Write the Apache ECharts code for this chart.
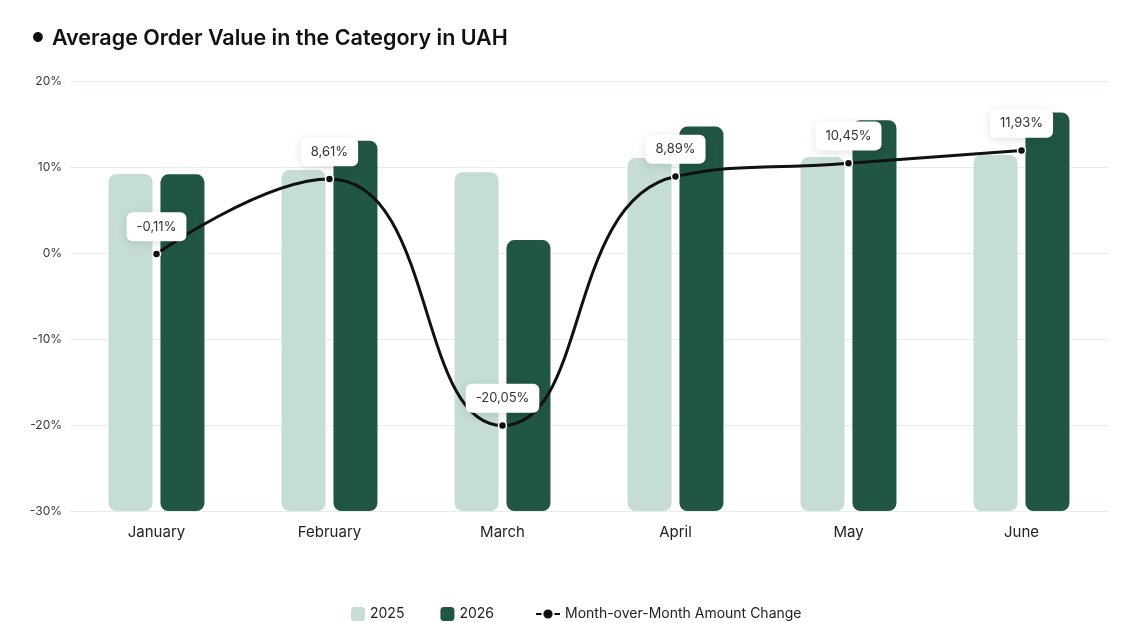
<!DOCTYPE html>
<html>
<head>
<meta charset="utf-8">
<script src="https://cdn.jsdelivr.net/npm/echarts@6/dist/echarts.min.js"></script>
<style>
  html, body { margin: 0; padding: 0; background: #fff; }
  #chart { width: 1148px; height: 623px; }
</style>
</head>
<body>
<div id="chart"></div>
<script>
const months = ['January', 'February', 'March', 'April', 'May', 'June'];
// average order value, UAH
const aov2025 = [784, 793, 788, 821, 823, 828];
const aov2026 = [783, 861, 630, 894, 909, 927];
// change in %, as labelled on the line
const change = [-0.11, 8.61, -20.05, 8.89, 10.45, 11.93];

const font = 'Inter, "Noto Sans", sans-serif';
const lineName = 'Month-over-Month Amount Change';

const chart = echarts.init(document.getElementById('chart'));

const option = {
    backgroundColor: '#fff',
    textStyle: { fontFamily: font },
    title: {
        text: '{dot|●}{t|Average Order Value in the Category in UAH}',
        left: 27,
        top: 23,
        textStyle: {
            rich: {
                dot: { fontFamily: font, fontSize: 13, color: '#111', padding: [0, 8, 2, 0] },
                t: { fontFamily: font, fontSize: 21.5, fontWeight: 600, color: '#111' }
            }
        }
    },
    legend: [
        {
            top: 602,
            left: 346,
            itemGap: 36,
            itemWidth: 14,
            itemHeight: 14,
            textStyle: { fontFamily: font, fontSize: 14, color: '#222' },
            data: [
                { name: '2025', icon: 'roundRect' },
                { name: '2026', icon: 'roundRect' }
            ]
        },
        {
            top: 602,
            left: 530,
            itemWidth: 24,
            itemHeight: 14,
            textStyle: { fontFamily: font, fontSize: 14, color: '#222' },
            data: [lineName]
        }
    ],
    grid: { left: 70, right: 40, top: 81, bottom: 112 },
    xAxis: {
        type: 'category',
        data: months,
        axisLine: { show: false },
        axisTick: { show: false },
        axisLabel: { fontFamily: font, fontSize: 15, color: '#222', margin: 14 }
    },
    yAxis: [
        {
            type: 'value',
            min: -30,
            max: 20,
            interval: 10,
            axisLabel: { formatter: '{value}%', fontFamily: font, fontSize: 12, color: '#3a3a3a', margin: 8 },
            splitLine: { lineStyle: { color: '#e6eeeb' } },
            axisLine: { show: false },
            axisTick: { show: false }
        },
        {
            type: 'value',
            min: 0,
            max: 1000,
            show: false,
            splitLine: { show: false }
        }
    ],
    series: [
        {
            name: '2025',
            type: 'bar',
            yAxisIndex: 1,
            barWidth: 44,
            barGap: '18%',
            itemStyle: { color: '#c5ddd4', borderRadius: 8 },
            data: aov2025
        },
        {
            name: '2026',
            type: 'bar',
            yAxisIndex: 1,
            barWidth: 44,
            itemStyle: { color: '#215644', borderRadius: 8 },
            data: aov2026
        },
        {
            name: lineName,
            type: 'line',
            yAxisIndex: 0,
            smooth: 0.5,
            z: 5,
            symbol: 'circle',
            symbolSize: 8,
            lineStyle: { color: '#111', width: 3 },
            itemStyle: { color: '#111', borderColor: '#fff', borderWidth: 1.5 },
            label: {
                show: true,
                position: 'top',
                distance: 8,
                formatter: p => p.value.toFixed(2).replace('.', ',') + '%',
                fontFamily: font,
                fontSize: 13,
                color: '#333',
                backgroundColor: '#fff',
                padding: [8, 10],
                borderRadius: 6,
                shadowBlur: 10,
                shadowColor: 'rgba(0,0,0,0.12)',
                shadowOffsetY: 2
            },
            data: change
        }
    ]
};

chart.setOption(option);
</script>
</body>
</html>
